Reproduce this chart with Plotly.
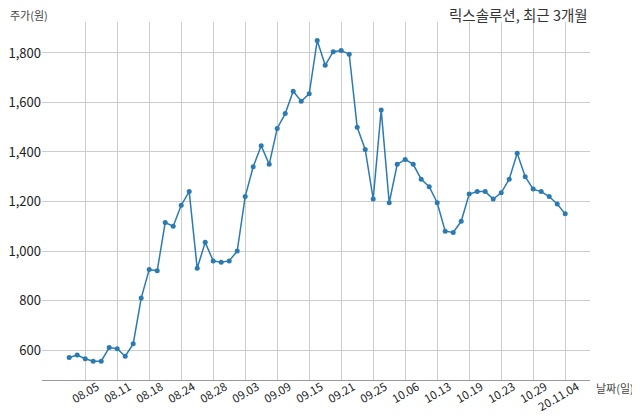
import plotly.graph_objects as go

dates = ["08.03","08.04","08.05","08.06","08.07","08.10","08.11","08.12","08.13","08.14",
         "08.18","08.19","08.20","08.21","08.24","08.25","08.26","08.27","08.28","08.31",
         "09.01","09.02","09.03","09.04","09.07","09.08","09.09","09.10","09.11","09.14",
         "09.15","09.16","09.17","09.18","09.21","09.22","09.23","09.24","09.25","09.28","09.29",
         "10.05","10.06","10.07","10.08","10.12","10.13","10.14","10.15","10.16","10.19",
         "10.20","10.21","10.22","10.23","10.26","10.27","10.28","10.29","10.30",
         "11.02","11.03","11.04"]
prices = [570, 580, 565, 555, 555, 610, 605, 575, 625, 810,
          925, 920, 1115, 1100, 1185, 1240, 930, 1035, 960, 955,
          960, 1000, 1220, 1340, 1425, 1350, 1495, 1555, 1645, 1605,
          1635, 1850, 1750, 1805, 1810, 1795, 1500, 1410, 1210, 1570, 1195,
          1350, 1370, 1350, 1290, 1260, 1195, 1080, 1075, 1120, 1230,
          1240, 1240, 1210, 1235, 1290, 1395, 1300, 1250, 1240,
          1220, 1190, 1150]
tick_dates = ["08.05","08.11","08.18","08.24","08.28","09.03","09.09","09.15",
              "09.21","09.25","10.06","10.13","10.19","10.23","10.29","11.04"]
tick_labels = ["08.05","08.11","08.18","08.24","08.28","09.03","09.09","09.15",
               "09.21","09.25","10.06","10.13","10.19","10.23","10.29","20.11.04"]
y_ticks = [600, 800, 1000, 1200, 1400, 1600, 1800]

FONT = "Noto Sans CJK KR"
idx = list(range(len(dates)))
tickpos = [dates.index(d) for d in tick_dates]

fig = go.Figure()
fig.add_trace(go.Scatter(
    x=idx, y=prices, mode="lines+markers",
    line=dict(color="#2b7bb2", width=1.5),
    marker=dict(color="#2b7bb2", size=5),
    hoverinfo="skip", showlegend=False))

# page has an 8px body margin, so the figure is 632x411 placed at (8, 8)
fig.update_layout(
    width=632, height=411,
    margin=dict(l=34, r=50, t=14, b=39, autoexpand=False),
    paper_bgcolor="white", plot_bgcolor="white",
    font=dict(family=FONT, color="#333333"),
    xaxis=dict(range=[-3.4, 65.1], tickvals=tickpos, ticktext=tick_labels,
               tickangle=-30, showgrid=True, gridcolor="#cccccc", gridwidth=1,
               showline=True, linecolor="#999999", linewidth=1,
               ticks="", automargin=False, ticklabelshift=12, ticklabelstandoff=-5,
               tickfont=dict(size=11.5, color="#222222", family=FONT),
               zeroline=False),
    yaxis=dict(range=[479, 1925], tickvals=y_ticks, tickformat=",d",
               showgrid=True, gridcolor="#cccccc", gridwidth=1,
               showline=False, ticks="", zeroline=False, automargin=False,
               tickfont=dict(size=13, color="#222222", family=FONT)),
    annotations=[
        dict(text="주가(원)", xref="paper", yref="paper", x=-0.062, y=1.0,
             xanchor="left", yanchor="middle", yshift=7, showarrow=False,
             font=dict(size=11, color="#444444", family=FONT)),
        dict(text="날짜(일)", xref="paper", yref="paper", x=1.0, y=0.0,
             xanchor="left", yanchor="middle", xshift=4, yshift=-8, showarrow=False,
             font=dict(size=11, color="#444444", family=FONT)),
        dict(text="릭스솔루션, 최근 3개월", xref="paper", yref="paper", x=1.0, y=1.0,
             xanchor="right", yanchor="middle", yshift=8, showarrow=False,
             font=dict(size=14.5, color="#333333", family=FONT)),
    ],
)
fig.write_html("out.html")
